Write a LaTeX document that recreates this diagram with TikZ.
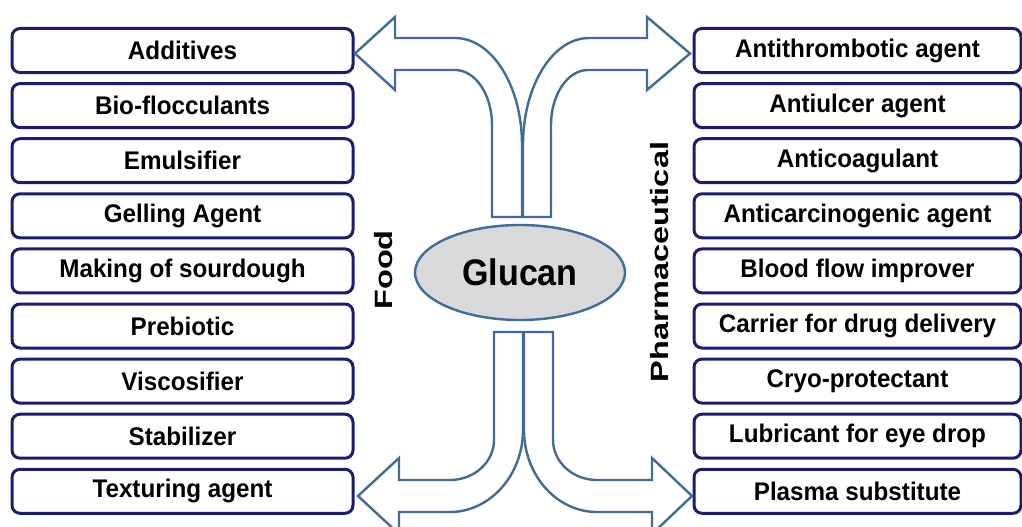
\documentclass[tikz,border=0pt]{standalone}
\usepackage{fontspec}
\setmainfont{Liberation Sans}
\usetikzlibrary{shapes.geometric}
\definecolor{boxline}{RGB}{28,28,115}
\definecolor{arrowline}{RGB}{65,107,152}
\definecolor{glucanfill}{RGB}{217,217,219}
\newcommand\narrow[1]{\scalebox{0.95}[1]{#1}}
\newcommand\tall[1]{\scalebox{1.3}[1]{#1}}
\begin{document}
\begin{tikzpicture}[x=1pt,y=-1pt,
  usebox/.style={draw=boxline, line width=3pt, rounded corners=8pt, fill=white,
    inner sep=0pt, minimum height=44pt,
    font=\bfseries\fontsize{25.5}{28}\selectfont},
  leftbox/.style={usebox, minimum width=341pt},
  rightbox/.style={usebox, minimum width=327pt},
  blockarrow/.style={draw=arrowline, line width=2.4pt, fill=white, line join=miter},
  sidelabel/.style={rotate=90, inner sep=0pt, font=\bfseries\fontsize{25}{28}\selectfont}]
\useasboundingbox (0,0) rectangle (1022,527);
\clip (0,0) rectangle (1022,527);

% food applications (left column)
\foreach \t [count=\i from 0] in {Additives, Bio-flocculants, Emulsifier, Gelling Agent,
    Making of sourdough, Prebiotic, Viscosifier, Stabilizer, Texturing agent}
  \node[leftbox] (food\i) at (182.5, 50.5+55.1*\i) {\narrow{\t}};

% pharmaceutical applications (right column)
\foreach \t [count=\i from 0] in {Antithrombotic agent, Antiulcer agent, Anticoagulant,
    Anticarcinogenic agent, Blood flow improver, Carrier for drug delivery,
    Cryo-protectant, Lubricant for eye drop, Plasma substitute}
  \node[rightbox] (pharm\i) at (857.5, 50.5+55.1*\i) {\narrow{\t}};

% bent block arrows from the centre to the corners
% top left
\draw[blockarrow] (492,217) -- (492,125)
  .. controls (492,94.6) and (475.4,70) .. (455,70)
  -- (395,70) -- (395,90) -- (355,53.5) -- (395,17) -- (395,38) -- (455,38)
  .. controls (492,38) and (522,85.9) .. (522,145) -- (522,217) -- cycle;
% top right
\draw[blockarrow] (551,217) -- (551,125)
  .. controls (551,94.6) and (567.6,70) .. (588,70)
  -- (647,70) -- (647,90) -- (690,53.5) -- (647,17) -- (647,38) -- (589,38)
  .. controls (552.5,38) and (523,85.9) .. (523,145) -- (523,217) -- cycle;
% bottom left
\draw[blockarrow] (494,332) -- (494,440)
  .. controls (494,462) and (474.3,480) .. (450,480)
  -- (399,480) -- (399,458) -- (358,496) -- (399,534) -- (399,512) -- (450,512)
  .. controls (489.8,512) and (523,475.3) .. (523,430) -- (523,332) -- cycle;
% bottom right
\draw[blockarrow] (553,332) -- (553,440)
  .. controls (553,462) and (572.7,480) .. (597,480)
  -- (652,480) -- (652,458) -- (692,496) -- (652,534) -- (652,512) -- (597,512)
  .. controls (556.7,512) and (524,475.3) .. (524,430) -- (524,332) -- cycle;

% central node
\node[ellipse, draw=arrowline, line width=2.4pt, fill=glucanfill,
  minimum width=210pt, minimum height=95pt, inner sep=0pt,
  font=\bfseries\fontsize{37}{40}\selectfont] (glucan) at (520,272.5) {\scalebox{0.92}[1]{Glucan}};

% category labels
\node[sidelabel] (foodlabel) at (384,270) {\tall{Food}};
\node[sidelabel] (pharmlabel) at (660,262) {\tall{Pharmaceutical}};
\end{tikzpicture}
\end{document}
